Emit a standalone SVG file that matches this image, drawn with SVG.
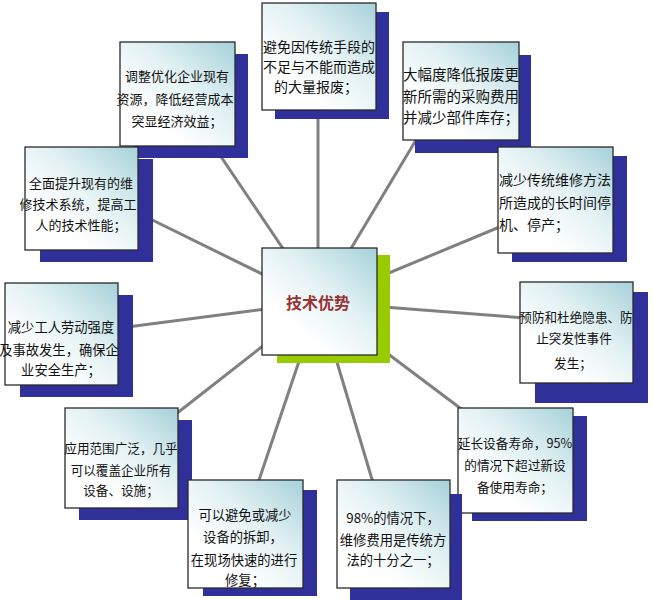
<svg xmlns="http://www.w3.org/2000/svg" width="653" height="600" viewBox="0 0 653 600">
<style>
.bg{fill:#ffffff}
.sh{fill:#30309a}
.gsh{fill:#99cc00}
.box{fill:url(#g);stroke:#2a2a2a;stroke-width:1.3}
.ln{stroke:#808080;stroke-width:3;fill:none;stroke-linecap:butt}
text{font-family:"Noto Sans CJK SC","Noto Sans",sans-serif;fill:#111;text-anchor:middle}
.ttl{font-size:16px;font-weight:bold;fill:#993333}
</style>
<defs>
<linearGradient id="g" x1="1" y1="0" x2="0.3" y2="0.75">
<stop offset="0" stop-color="#a6d1da"/>
<stop offset="0.55" stop-color="#e2f1f3"/>
<stop offset="1" stop-color="#ffffff"/>
</linearGradient>
</defs>
<rect class="bg" x="0" y="0" width="653" height="600"/>
<g id="connectors">
<line class="ln" x1="318" y1="300" x2="318" y2="100"/>
<line class="ln" x1="319" y1="302" x2="422" y2="130"/>
<line class="ln" x1="319" y1="302" x2="203" y2="130"/>
<line class="ln" x1="319" y1="302" x2="132" y2="210"/>
<line class="ln" x1="319" y1="302" x2="502" y2="226"/>
<line class="ln" x1="319" y1="302" x2="112" y2="329"/>
<line class="ln" x1="319" y1="302" x2="525" y2="318"/>
<line class="ln" x1="319" y1="302" x2="176" y2="414"/>
<line class="ln" x1="319" y1="302" x2="468" y2="414"/>
<line class="ln" x1="319" y1="302" x2="257" y2="486"/>
<line class="ln" x1="319" y1="302" x2="374" y2="486"/>
</g>
<g id="center">
<rect class="gsh" x="277" y="255" width="113" height="108"/>
<rect class="box" x="262" y="248" width="115" height="107"/>
<text class="ttl" x="318" y="309">技术优势</text>
</g>
<g id="n1">
<rect class="sh" x="275" y="12" width="114" height="107"/>
<rect class="box" x="262" y="3" width="114" height="107"/>
<text x="319" y="52" style="font-size:14px">避免因传统手段的</text>
<text x="319" y="72" style="font-size:14px">不足与不能而造成</text>
<text x="316" y="92" style="font-size:14px">的大量报废；</text>
</g>
<g id="n2">
<rect class="sh" x="415" y="55" width="116" height="98"/>
<rect class="box" x="403" y="42" width="116" height="98"/>
<text x="461" y="80" style="font-size:14.5px">大幅度降低报废更</text>
<text x="461" y="102" style="font-size:14.5px">新所需的采购费用</text>
<text x="461" y="123" style="font-size:14.5px">并减少部件库存；</text>
</g>
<g id="n3">
<rect class="sh" x="133" y="54" width="115" height="104"/>
<rect class="box" x="120" y="42" width="115" height="104"/>
<text x="177" y="81" style="font-size:13px">调整优化企业现有</text>
<text x="175" y="104" style="font-size:13px">资源，降低经营成本</text>
<text x="177" y="126" style="font-size:13px">突显经济效益；</text>
</g>
<g id="n4">
<rect class="sh" x="40" y="159" width="113" height="103"/>
<rect class="box" x="25" y="147" width="113" height="103"/>
<text x="81" y="188" style="font-size:13px">全面提升现有的维</text>
<text x="78" y="209" style="font-size:13px">修技术系统，提高工</text>
<text x="81" y="230" style="font-size:13px">人的技术性能；</text>
</g>
<g id="n5">
<rect class="sh" x="512" y="156" width="115" height="106"/>
<rect class="box" x="498" y="147" width="115" height="106"/>
<text x="499" y="185" style="font-size:14px;text-anchor:start">减少传统维修方法</text>
<text x="499" y="208" style="font-size:14px;text-anchor:start">所造成的长时间停</text>
<text x="499" y="230" style="font-size:14px;text-anchor:start">机、停产；</text>
</g>
<g id="n6">
<rect class="sh" x="20" y="295" width="113" height="102"/>
<rect class="box" x="5" y="283" width="113" height="102"/>
<text x="61" y="332" style="font-size:13.3px">减少工人劳动强度</text>
<text x="59" y="355" style="font-size:13.3px">及事故发生，确保企</text>
<text x="61" y="375" style="font-size:13.3px">业安全生产；</text>
</g>
<g id="n7">
<rect class="sh" x="535" y="292" width="113" height="111"/>
<rect class="box" x="520" y="282" width="113" height="101"/>
<text x="576" y="322" style="font-size:12.6px">预防和杜绝隐患、防</text>
<text x="574" y="343" style="font-size:12.6px">止突发性事件</text>
<text x="573" y="368" style="font-size:12.6px">发生；</text>
</g>
<g id="n8">
<rect class="sh" x="79" y="420" width="113" height="100"/>
<rect class="box" x="65" y="408" width="113" height="100"/>
<text x="121" y="453" style="font-size:12.6px">应用范围广泛，几乎</text>
<text x="121" y="475" style="font-size:12.6px">可以覆盖企业所有</text>
<text x="121" y="495" style="font-size:12.6px">设备、设施；</text>
</g>
<g id="n9">
<rect class="sh" x="472" y="416" width="115" height="105"/>
<rect class="box" x="458" y="408" width="115" height="105"/>
<text x="515" y="448" style="font-size:12.7px">延长设备寿命，95%</text>
<text x="515" y="470" style="font-size:12.7px">的情况下超过新设</text>
<text x="515" y="492" style="font-size:12.7px">备使用寿命；</text>
</g>
<g id="n10">
<rect class="sh" x="203" y="490" width="114" height="106"/>
<rect class="box" x="188" y="480" width="115" height="108"/>
<text x="245" y="520" style="font-size:13.3px">可以避免或减少</text>
<text x="243" y="542" style="font-size:13.3px">设备的拆卸，</text>
<text x="244" y="565" style="font-size:13.3px">在现场快速的进行</text>
<text x="245" y="585" style="font-size:13.3px">修复；</text>
</g>
<g id="n11">
<rect class="sh" x="350" y="494" width="112" height="110"/>
<rect class="box" x="337" y="480" width="113" height="108"/>
<text x="393" y="523" style="font-size:13.3px">98%的情况下，</text>
<text x="393" y="545" style="font-size:13.3px">维修费用是传统方</text>
<text x="393" y="565" style="font-size:13.3px">法的十分之一；</text>
</g>
</svg>
